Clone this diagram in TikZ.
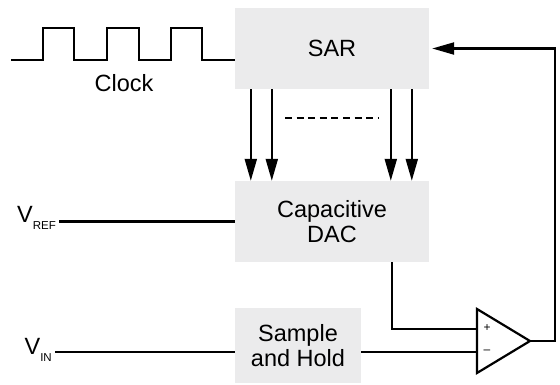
\documentclass[tikz,border=0pt]{standalone}
\usepackage{fontspec}
\setmainfont{Liberation Sans}
\usetikzlibrary{arrows.meta}
\definecolor{boxgray}{HTML}{EBEBEC}
\tikzset{
  block/.style={fill=boxgray, inner sep=0pt, align=center, font=\fontsize{23.5}{25}\selectfont},
  sig/.style={line width=2.2pt},
  bus/.style={sig, -{Triangle[length=22pt,width=12pt]}},
  lbl/.style={inner sep=3pt, font=\fontsize{23.5}{25}\selectfont}
}
\newcommand{\subtxt}[1]{\raisebox{-0.33em}{\fontsize{11.5}{11.5}\selectfont #1}}
\begin{document}
\begin{tikzpicture}[x=1pt, y=-1pt]
  \useasboundingbox (0,0) rectangle (560,384);
  % blocks
  \node[block, minimum width=194pt, minimum height=81pt] (sar) at (332,48.5) {SAR};
  \node[block, minimum width=194pt, minimum height=81pt] (dac) at (332,221.5) {Capacitive\\DAC};
  \node[block, minimum width=126pt, minimum height=75pt] (sh) at (298,345.5) {Sample\\and Hold};
  % labels
  \node[lbl, anchor=base east] (vref) at (59,222) {V\subtxt{REF}};
  \node[lbl, anchor=base east] (vin) at (55,354) {V\subtxt{IN}};
  \node[lbl] (clock) at (124,83) {Clock};
  % comparator
  \coordinate (plus) at (477,329);
  \coordinate (minus) at (477,352);
  \coordinate (out) at (530,341);
  \draw[sig, line join=miter] (477,309) -- (477,373) -- (out) -- cycle;
  \node[font=\fontsize{12}{12}\selectfont] (p) at (487,328) {+};
  \node[font=\fontsize{12}{12}\selectfont] (m) at (487,352) {--};
  % clock
  \coordinate (clk) at (11,60);
  \draw[sig, line join=miter] (clk) -- ++(32,0) -- ++(0,-32) -- ++(31,0) -- ++(0,32)
    -- ++(33,0) -- ++(0,-32) -- ++(32,0) -- ++(0,32)
    -- ++(32,0) -- ++(0,-32) -- ++(31,0) -- ++(0,32) -- (sar.west |- clk);
  % bus
  \foreach \dx in {16,37,156,177}
    \draw[bus] ([xshift=\dx]sar.south west) -- ([xshift=\dx]dac.north west);
  \draw[sig, dash pattern=on 7pt off 4.6pt] (285,118) -- (378,118);
  % inputs
  \draw[sig] (vref.east |- dac.west) -- (dac.west);
  \draw[sig] (vin.east |- minus) -- (minus -| sh.west);
  \draw[sig] (minus -| sh.east) -- (minus);
  \draw[sig] ([xshift=-37]dac.south east) |- (plus);
  % feedback
  \draw[sig, line join=miter, -{Triangle[length=22pt,width=12pt]}, shorten >=3pt] (out) -- ++(25,0) |- (sar.east);
\end{tikzpicture}
\end{document}
